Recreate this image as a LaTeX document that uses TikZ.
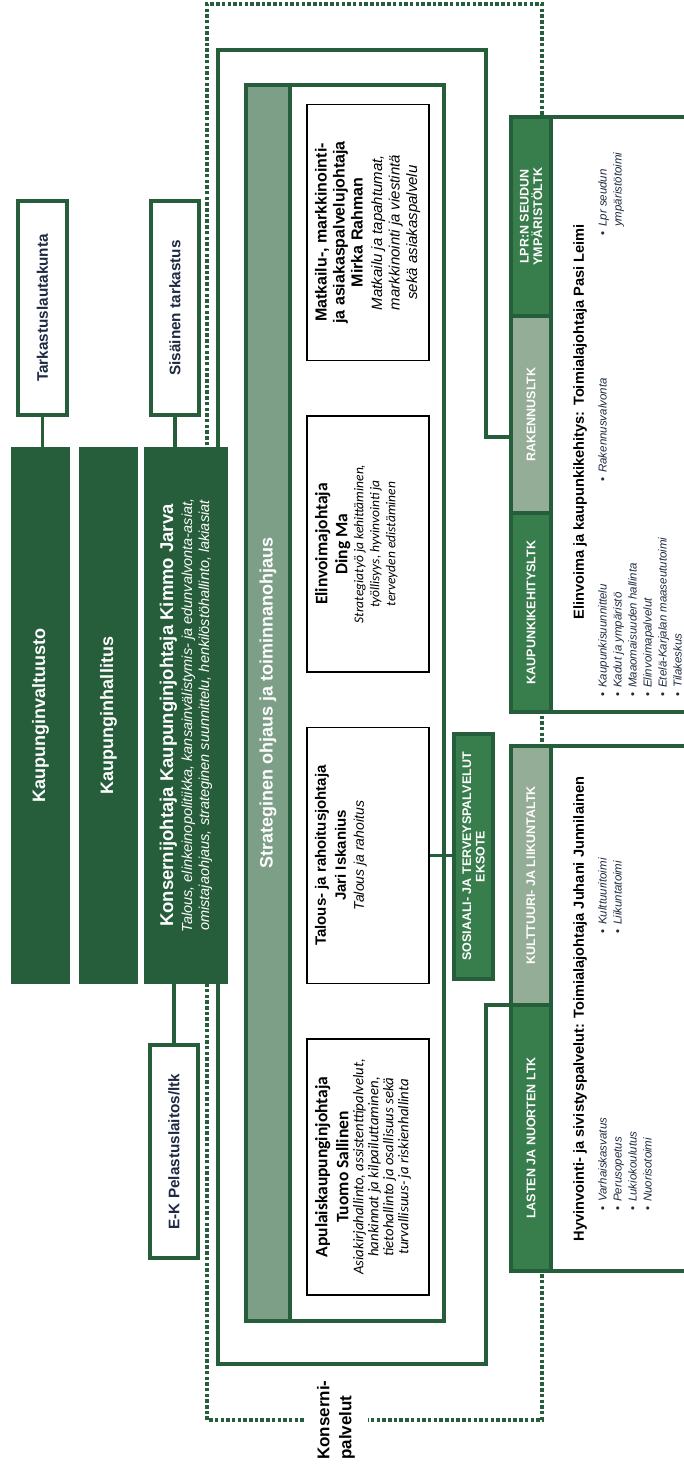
\documentclass[tikz,border=0pt]{standalone}
\usepackage{fontspec}
\setmainfont{Liberation Sans}
\newfontfamily\calfont{Carlito}
\usetikzlibrary{backgrounds}
\definecolor{kdark}{RGB}{38,93,58}
\definecolor{kmid}{RGB}{56,125,76}
\definecolor{klight}{RGB}{147,173,151}
\definecolor{kstrip}{RGB}{125,159,135}
\definecolor{knavy}{RGB}{30,42,66}
\newcommand{\rottext}[2]{\rotatebox{90}{\parbox{#1}{\centering #2}}}
\newcommand{\pbtext}[1]{\rotatebox{90}{\parbox[c][106pt][t]{246pt}{\centering #1}}}
\newcommand{\blist}[1]{\rotatebox{90}{\fontsize{11.5}{15}\selectfont\begin{tabular}{@{}l@{\hspace{5pt}}l@{}}#1\end{tabular}}}

\begin{document}
\begin{tikzpicture}[x=1pt,y=-1pt]
\tikzset{darkbox/.style={fill=kdark,draw=none,inner sep=0pt,text=white,minimum height=537pt}}
\tikzset{lbox/.style={draw=kdark,line width=4pt,fill=white,inner sep=0pt,text=knavy,font=\fontsize{15.3}{18}\selectfont\bfseries}}
\tikzset{pbox/.style={draw=black,line width=1.6pt,fill=white,inner sep=0pt,minimum width=122pt,minimum height=256pt}}
\tikzset{cell/.style={draw=kdark,line width=4pt,inner sep=0pt,minimum width=40pt,text=white,font=\fontsize{12.5}{13.5}\selectfont\bfseries}}
\tikzset{secbox/.style={draw=kdark,line width=4pt,fill=white,minimum width=179pt}}
\tikzset{sechead/.style={inner sep=0pt,font=\fontsize{14.6}{17}\selectfont\bfseries}}
\tikzset{listnode/.style={inner sep=0pt,anchor=south west,text=knavy}}
\tikzset{conn/.style={draw=kdark,line width=3.5pt}}
\tikzset{frameline/.style={draw=kdark,line width=4pt}}
\tikzset{dotline/.style={draw=kdark,line width=3.5pt,dash pattern=on 3.5pt off 2.2pt}}
\useasboundingbox (0,0) rectangle (684,1469);

\node[lbox,minimum width=49pt,minimum height=214pt] at (42.5,308) (tark) {\rotatebox{90}{Tarkastuslautakunta}};
\node[lbox,minimum width=48pt,minimum height=214pt] at (175,308) (sisa) {\rotatebox{90}{Sisäinen tarkastus}};
\node[darkbox,minimum width=59pt,font=\fontsize{18}{20}\selectfont\bfseries] at (40.5,715.5) (valt) {\rotatebox{90}{Kaupunginvaltuusto}};
\node[darkbox,minimum width=59pt,font=\fontsize{18}{20}\selectfont\bfseries] at (108.5,715.5) (hall) {\rotatebox{90}{Kaupunginhallitus}};
\node[darkbox,minimum width=84pt] at (186,715.5) (konj) {\rottext{520pt}{{\fontsize{18.5}{20}\selectfont\bfseries Konsernijohtaja Kaupunginjohtaja Kimmo Jarva\par}\vspace{2pt}{\fontsize{14.5}{17}\selectfont\itshape Talous, elinkeinopolitiikka, kansainvälistymis- ja edunvalvonta-asiat,\\ omistajaohjaus, strateginen suunnittelu, henkilöstöhallinto, lakiasiat\par}}};
\node[lbox,minimum width=48pt,minimum height=213pt] at (174,1151.5) (pela) {\rotatebox{90}{E-K Pelastuslaitos/ltk}};
\draw[conn] (tark.south) -- (tark.south |- valt.north);
\draw[conn] (sisa.south) -- (sisa.south |- konj.north);
\draw[conn] (pela.north) -- (pela.north |- konj.south);

% strateginen ohjaus
\node[draw=kdark,line width=4pt,fill=white,minimum width=198pt,minimum height=1236pt] at (345,703) (strat) {};
\node[draw=kdark,line width=4pt,fill=kstrip,inner sep=0pt,minimum width=44pt,minimum height=1236pt,text=white,font=\fontsize{18}{20}\selectfont\bfseries] at (268,703) (stripe) {\rotatebox{90}{Strateginen ohjaus ja toiminnanohjaus}};
\node[pbox] at (368,232.5) (matk) {\pbtext{{\fontsize{16}{18}\selectfont\bfseries Matkailu-, markkinointi-\\ ja asiakaspalvelujohtaja\\ Mirka Rahman\par}\vspace{2pt}{\fontsize{15}{17.5}\selectfont\itshape Matkailu ja tapahtumat,\\ markkinointi ja viestintä\\ sekä asiakaspalvelu\par}}};
\node[pbox] at (368,544) (elin) {\pbtext{\calfont{\fontsize{17.5}{20}\selectfont\bfseries Elinvoimajohtaja\\ Ding Ma\par}{\fontsize{13.5}{16}\selectfont\itshape Strategiatyö ja kehittäminen,\\ työllisyys, hyvinvointi ja\\ terveyden edistäminen\par}}};
\node[pbox] at (368,855.5) (talo) {\pbtext{{\fontsize{15}{20}\selectfont\bfseries Talous- ja rahoitusjohtaja\\ Jari Iskanius\par}{\fontsize{14}{18}\selectfont\itshape Talous ja rahoitus\par}}};
\node[pbox] at (368,1167) (apul) {\pbtext{\calfont{\fontsize{17.5}{21}\selectfont\bfseries Apulaiskaupunginjohtaja\\ Tuomo Sallinen\par}{\fontsize{14.8}{15}\selectfont\itshape Asiakirjahallinto, assistenttipalvelut,\\ hankinnat ja kilpailuttaminen,\\ tietohallinto ja osallisuus sekä\\ turvallisuus- ja riskienhallinta\par}}};
\node[cell,fill=kmid,minimum width=39pt,minimum height=245pt] at (473.5,856.5) (sote) {\rottext{240pt}{SOSIAALI- JA TERVEYSPALVELUT\\ EKSOTE}};
\draw[conn] (talo.east) -- (talo.east -| sote.west);

% toimialat
\node[secbox,minimum height=595pt] at (600.5,414.5) (secA) {};
\node[secbox,minimum height=525pt] at (600.5,1008.5) (secB) {};
\node[cell,fill=kmid,minimum height=199pt] at (531,216.5) (lpr) {\rottext{190pt}{LPR:N SEUDUN\\ YMPÄRISTÖLTK}};
\node[cell,fill=klight,minimum height=197pt] at (531,414.5) (rak) {\rotatebox{90}{RAKENNUSLTK}};
\node[cell,fill=kmid,minimum height=199pt] at (531,612.5) (kau) {\rotatebox{90}{KAUPUNKIKEHITYSLTK}};
\node[cell,fill=klight,minimum height=259pt] at (531,875.5) (kul) {\rotatebox{90}{KULTTUURI- JA LIIKUNTALTK}};
\node[cell,fill=kmid,minimum height=266pt] at (531,1138) (las) {\rotatebox{90}{LASTEN JA NUORTEN LTK}};
\node[sechead] at (580,422) (headA) {\rotatebox{90}{Elinvoima ja kaupunkikehitys: Toimialajohtaja Pasi Leimi}};
\node[sechead] at (580,1009) (headB) {\rotatebox{90}{Hyvinvointi- ja sivistyspalvelut: Toimialajohtaja Juhani Junnilainen}};
\node[listnode] at (596,697) (listkau) {\blist{\textbullet & \textit{Kaupunkisuunnittelu}\\ \textbullet & \textit{Kadut ja ympäristö}\\ \textbullet & \textit{Maaomaisuuden hallinta}\\ \textbullet & \textit{Elinvoimapalvelut}\\ \textbullet & \textit{Etelä-Karjalan maaseututoimi}\\ \textbullet & \textit{Tilakeskus}}};
\node[listnode] at (596,482) (listrak) {\blist{\textbullet & \textit{Rakennusvalvonta}}};
\node[listnode] at (596,236) (listlpr) {\blist{\textbullet & \textit{Lpr seudun}\\ & \textit{ympäristötoimi}}};
\node[listnode] at (596,1211) (listlas) {\blist{\textbullet & \textit{Varhaiskasvatus}\\ \textbullet & \textit{Perusopetus}\\ \textbullet & \textit{Lukiokoulutus}\\ \textbullet & \textit{Nuorisotoimi}}};
\node[listnode] at (596,934) (listkul) {\blist{\textbullet & \textit{Kulttuuritoimi}\\ \textbullet & \textit{Liikuntatoimi}}};

\node[inner xsep=10pt,inner ysep=0pt,font=\fontsize{17}{22}\selectfont\bfseries] at (336,1420) (kp) {\rotatebox{90}{\begin{tabular}{@{}l@{}}Konserni-\\ palvelut\end{tabular}}};
\coordinate (rakin) at (486,437);
\coordinate (lasin) at (486,1005);
\begin{scope}[on background layer]
\draw[dotline] (kp.west) -| (207,4) -| (542,1420) -- (kp.east);
\draw[frameline] (rakin -| rak.west) -- (rakin) -- (486,50) -- (218,50) -- (218,1364) -- (486,1364) -- (lasin) -- (lasin -| las.west);
\end{scope}
\end{tikzpicture}
\end{document}
